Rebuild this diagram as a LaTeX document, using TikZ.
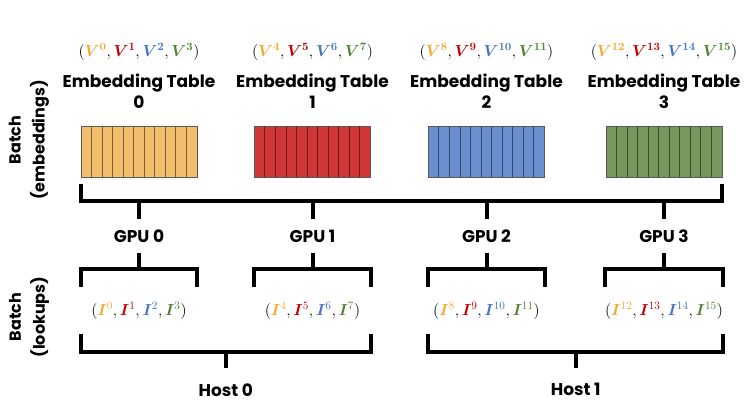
\RequirePackage{fix-cm}
\documentclass[tikz,border=0pt]{standalone}
\usepackage[no-math]{fontspec}
\setmainfont{Poppins}
\usepackage{amsmath,amssymb,bm}
\usepackage{xcolor}
\usetikzlibrary{positioning,calc}
\definecolor{orange}{RGB}{245,168,48}
\definecolor{crimson}{RGB}{192,0,0}
\definecolor{azure}{RGB}{68,114,196}
\definecolor{leaf}{RGB}{84,130,53}
\definecolor{orangefill}{RGB}{242,190,108}
\definecolor{redfill}{RGB}{208,54,54}
\definecolor{bluefill}{RGB}{106,143,208}
\definecolor{greenfill}{RGB}{119,152,92}
\newcommand{\vtuple}[4]{$(\textcolor{orange}{\bm{V}^{\mathbf{#1}}},\textcolor{crimson}{\bm{V}^{\mathbf{#2}}},\textcolor{azure}{\bm{V}^{\mathbf{#3}}},\textcolor{leaf}{\bm{V}^{\mathbf{#4}}})$}
\newcommand{\ituple}[4]{$(\textcolor{orange}{\bm{I}^{#1}},\textcolor{crimson}{\bm{I}^{#2}},\textcolor{azure}{\bm{I}^{#3}},\textcolor{leaf}{\bm{I}^{#4}})$}

\begin{document}
\begin{tikzpicture}[x=1pt,y=1pt,
  tab/.style={draw=gray!70!black, line width=0.6pt, minimum width=116pt, minimum height=51pt, inner sep=0pt},
  stripe/.style={line width=0.6pt},
  ttl/.style={align=center, inner sep=0pt, font=\fontsize{17}{21}\selectfont\bfseries},
  tup/.style={inner sep=0pt, font=\fontsize{16}{18}\selectfont},
  gpu/.style={inner sep=0pt, minimum height=34pt, font=\fontsize{17}{19}\selectfont\bfseries},
  itup/.style={inner sep=0pt, minimum width=116pt, minimum height=47pt, font=\fontsize{16}{18}\selectfont},
  host/.style={inner sep=0pt, font=\fontsize{17}{19}\selectfont\bfseries},
  side/.style={align=center, rotate=90, inner sep=0pt, font=\fontsize{16}{24}\selectfont\bfseries},
  brk/.style={line width=4pt}]
\useasboundingbox (0,0) rectangle (747,-414);

% tables
\node[tab, fill=orangefill] (tab0) at (139,-151.5) {};
\node[tab, fill=redfill] (tab1) at (312.5,-151.5) {};
\node[tab, fill=bluefill] (tab2) at (486.5,-151.5) {};
\node[tab, fill=greenfill] (tab3) at (664,-151.5) {};
\foreach \t/\c in {tab0/orangefill,tab1/redfill,tab2/bluefill,tab3/greenfill}
  \foreach \k in {1,...,10}
    \draw[stripe, draw=\c!50!black] ([xshift=\k*10.55pt]\t.south west) -- ([xshift=\k*10.55pt]\t.north west);

% titles and values
\node[ttl, above=17pt of tab0] (ttl0) {Embedding Table\\0};
\node[ttl, above=17pt of tab1] (ttl1) {Embedding Table\\1};
\node[ttl, above=17pt of tab2] (ttl2) {Embedding Table\\2};
\node[ttl, above=17pt of tab3] (ttl3) {Embedding Table\\3};
\node[tup, above=13pt of ttl0] (vt0) {\vtuple{0}{1}{2}{3}};
\node[tup, above=13pt of ttl1] (vt1) {\vtuple{4}{5}{6}{7}};
\node[tup, above=13pt of ttl2] (vt2) {\vtuple{8}{9}{10}{11}};
\node[tup, above=13pt of ttl3] (vt3) {\vtuple{12}{13}{14}{15}};

% side labels
\node[side] (batchE) at (29,-140) {Batch\\(embeddings)};
\node[side] (batchL) at (29,-317) {Batch\\(lookups)};

% gpus and lookups
\node[gpu] (gpu0) at (139,-236) {GPU 0};
\node[gpu] (gpu1) at (312.5,-236) {GPU 1};
\node[gpu] (gpu2) at (486.5,-236) {GPU 2};
\node[gpu] (gpu3) at (664,-236) {GPU 3};
\node[itup] (it0) at (139,-310.5) {\ituple{0}{1}{2}{3}};
\node[itup] (it1) at (312.5,-310.5) {\ituple{4}{5}{6}{7}};
\node[itup] (it2) at (486.5,-310.5) {\ituple{8}{9}{10}{11}};
\node[itup] (it3) at (664,-310.5) {\ituple{12}{13}{14}{15}};

% hosts
\coordinate (h0) at ($(it0.south west)!0.5!(it1.south east)$);
\coordinate (h1) at ($(it2.south west)!0.5!(it3.south east)$);
\node[host, below=49pt of h0] (host0) {Host 0};
\node[host, below=49pt of h1] (host1) {Host 1};

% brackets
\coordinate (top) at (0,-201);
\coordinate (mid) at (0,-269);
\coordinate (low) at (0,-352);
\draw[brk] ([yshift=-7pt]tab0.south west) |- (top -| tab3.south east) -- ([yshift=-7pt]tab3.south east);
\foreach \g/\i in {gpu0/it0,gpu1/it1,gpu2/it2,gpu3/it3} {
  \draw[brk] (\g.north) -- (\g.north |- top);
  \draw[brk] (\g.south) -- (\g.south |- mid);
  \draw[brk] (\i.north west) |- (mid -| \i.north east) -- (\i.north east);
}
\draw[brk] (it0.south west) |- (low -| it1.south east) -- (it1.south east);
\draw[brk] (it2.south west) |- (low -| it3.south east) -- (it3.south east);
\draw[brk] (host0.north |- low) -- ([yshift=15pt]host0.north);
\draw[brk] (host1.north |- low) -- ([yshift=15pt]host1.north);
\end{tikzpicture}
\end{document}
